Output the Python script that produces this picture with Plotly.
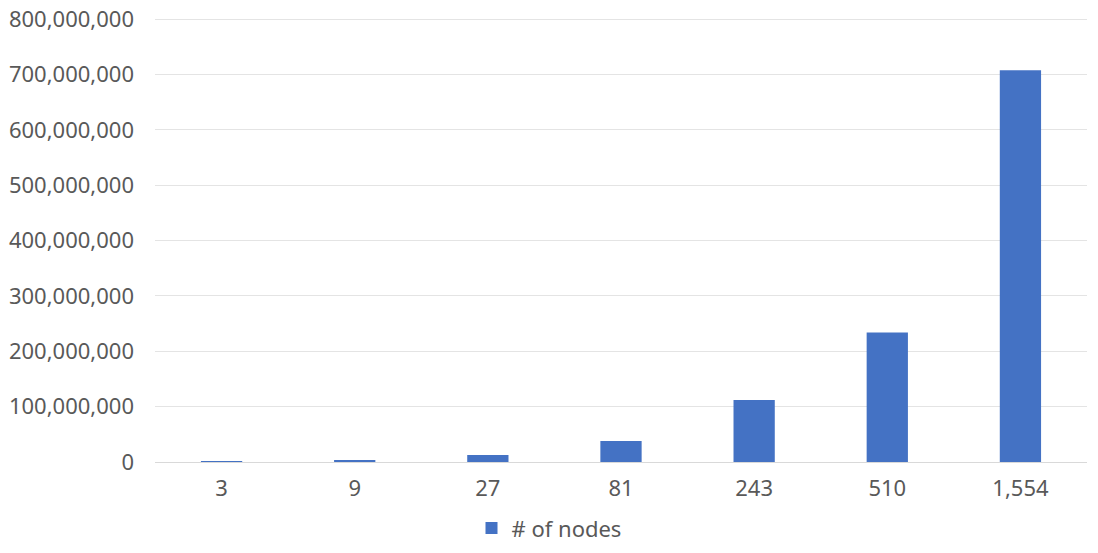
import plotly.graph_objects as go

categories = ["3", "9", "27", "81", "243", "510", "1,554"]
values = [600000, 3500000, 12500000, 38000000, 112000000, 234000000, 708000000]
series_name = "# of nodes"
y_ticks = [0, 100000000, 200000000, 300000000, 400000000, 500000000, 600000000, 700000000, 800000000]

fig = go.Figure()
fig.add_trace(go.Bar(
    x=categories, y=values, name=series_name,
    marker=dict(color="#4472C4", line=dict(width=0)),
    showlegend=True,
))

font = dict(family="Noto Sans, Open Sans, sans-serif", size=22, color="#595959")
fig.update_layout(
    width=1098, height=553,
    margin=dict(l=155, r=11, t=17, b=91, autoexpand=False),
    paper_bgcolor="white", plot_bgcolor="white",
    bargap=0.69,
    font=font,
    showlegend=True,
    legend=dict(orientation="h", xref="container", x=0.5, xanchor="center",
                yref="container", y=0.045, yanchor="middle",
                font=font, itemsizing="constant", itemwidth=30),
    xaxis=dict(type="category", showgrid=False, showline=True, linecolor="#d9d9d9",
               ticks="", tickfont=font, automargin=False, ticklabelstandoff=7),
    yaxis=dict(range=[0, 804000000], tickvals=y_ticks, tickformat=",d",
               showgrid=True, gridcolor="#e4e4e4", zeroline=False, showline=False,
               ticks="", ticklabelstandoff=20, tickfont=font, automargin=False),
)
fig.write_html("out.html", config={"displayModeBar": False},
               post_script="document.body.style.margin='0';")
